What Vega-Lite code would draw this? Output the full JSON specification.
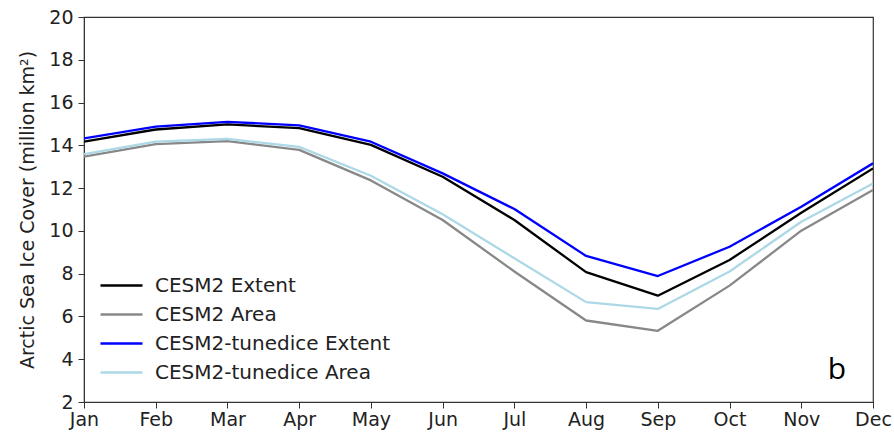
{
  "$schema": "https://vega.github.io/schema/vega-lite/v6.json",
  "autosize": "none",
  "width": 789,
  "height": 385,
  "padding": {"left": 84, "top": 17, "right": 21, "bottom": 31},
  "background": "white",
  "config": {
    "font": "DejaVu Sans",
    "view": {"stroke": "#333333", "strokeWidth": 1.2},
    "axis": {
      "labelFont": "DejaVu Sans",
      "titleFont": "DejaVu Sans",
      "labelFontSize": 19,
      "titleFontSize": 19,
      "titleFontWeight": "normal",
      "labelColor": "#222222",
      "titleColor": "#222222",
      "domainColor": "#333333",
      "tickColor": "#333333",
      "tickSize": 6,
      "grid": false
    }
  },
  "datasets": {
    "ice": [
      {"month": "Jan", "series": "CESM2 Extent", "value": 14.17},
      {"month": "Feb", "series": "CESM2 Extent", "value": 14.74},
      {"month": "Mar", "series": "CESM2 Extent", "value": 14.98},
      {"month": "Apr", "series": "CESM2 Extent", "value": 14.80},
      {"month": "May", "series": "CESM2 Extent", "value": 14.02},
      {"month": "Jun", "series": "CESM2 Extent", "value": 12.53},
      {"month": "Jul", "series": "CESM2 Extent", "value": 10.51},
      {"month": "Aug", "series": "CESM2 Extent", "value": 8.07},
      {"month": "Sep", "series": "CESM2 Extent", "value": 6.97},
      {"month": "Oct", "series": "CESM2 Extent", "value": 8.64},
      {"month": "Nov", "series": "CESM2 Extent", "value": 10.85},
      {"month": "Dec", "series": "CESM2 Extent", "value": 12.92},
      {"month": "Jan", "series": "CESM2 Area", "value": 13.47},
      {"month": "Feb", "series": "CESM2 Area", "value": 14.06},
      {"month": "Mar", "series": "CESM2 Area", "value": 14.20},
      {"month": "Apr", "series": "CESM2 Area", "value": 13.79},
      {"month": "May", "series": "CESM2 Area", "value": 12.36},
      {"month": "Jun", "series": "CESM2 Area", "value": 10.51},
      {"month": "Jul", "series": "CESM2 Area", "value": 8.10},
      {"month": "Aug", "series": "CESM2 Area", "value": 5.81},
      {"month": "Sep", "series": "CESM2 Area", "value": 5.33},
      {"month": "Oct", "series": "CESM2 Area", "value": 7.44},
      {"month": "Nov", "series": "CESM2 Area", "value": 10.01},
      {"month": "Dec", "series": "CESM2 Area", "value": 11.91},
      {"month": "Jan", "series": "CESM2-tunedice Extent", "value": 14.32},
      {"month": "Feb", "series": "CESM2-tunedice Extent", "value": 14.87},
      {"month": "Mar", "series": "CESM2-tunedice Extent", "value": 15.10},
      {"month": "Apr", "series": "CESM2-tunedice Extent", "value": 14.93},
      {"month": "May", "series": "CESM2-tunedice Extent", "value": 14.17},
      {"month": "Jun", "series": "CESM2-tunedice Extent", "value": 12.69},
      {"month": "Jul", "series": "CESM2-tunedice Extent", "value": 11.02},
      {"month": "Aug", "series": "CESM2-tunedice Extent", "value": 8.83},
      {"month": "Sep", "series": "CESM2-tunedice Extent", "value": 7.89},
      {"month": "Oct", "series": "CESM2-tunedice Extent", "value": 9.26},
      {"month": "Nov", "series": "CESM2-tunedice Extent", "value": 11.13},
      {"month": "Dec", "series": "CESM2-tunedice Extent", "value": 13.16},
      {"month": "Jan", "series": "CESM2-tunedice Area", "value": 13.59},
      {"month": "Feb", "series": "CESM2-tunedice Area", "value": 14.17},
      {"month": "Mar", "series": "CESM2-tunedice Area", "value": 14.30},
      {"month": "Apr", "series": "CESM2-tunedice Area", "value": 13.93},
      {"month": "May", "series": "CESM2-tunedice Area", "value": 12.58},
      {"month": "Jun", "series": "CESM2-tunedice Area", "value": 10.78},
      {"month": "Jul", "series": "CESM2-tunedice Area", "value": 8.72},
      {"month": "Aug", "series": "CESM2-tunedice Area", "value": 6.67},
      {"month": "Sep", "series": "CESM2-tunedice Area", "value": 6.35},
      {"month": "Oct", "series": "CESM2-tunedice Area", "value": 8.10},
      {"month": "Nov", "series": "CESM2-tunedice Area", "value": 10.43},
      {"month": "Dec", "series": "CESM2-tunedice Area", "value": 12.22}
    ],
    "panel": [
      {"month": "Dec", "value": 3.5, "tag": "b"}
    ]
  },
  "layer": [
    {
      "data": {"name": "ice"},
      "mark": {"type": "line", "strokeWidth": 2.3, "strokeJoin": "round", "clip": true},
      "encoding": {
        "x": {
          "field": "month",
          "type": "ordinal",
          "sort": ["Jan", "Feb", "Mar", "Apr", "May", "Jun", "Jul", "Aug", "Sep", "Oct", "Nov", "Dec"],
          "scale": {"type": "point", "padding": 0},
          "axis": {"title": null, "labelAngle": 0, "labelPadding": 2}
        },
        "y": {
          "field": "value",
          "type": "quantitative",
          "scale": {"domain": [2, 20], "nice": false, "zero": false},
          "axis": {
            "title": "Arctic Sea Ice Cover (million km²)",
            "values": [2, 4, 6, 8, 10, 12, 14, 16, 18, 20],
            "labelPadding": 5,
            "titlePadding": 11
          }
        },
        "color": {
          "field": "series",
          "type": "nominal",
          "sort": ["CESM2 Extent", "CESM2 Area", "CESM2-tunedice Extent", "CESM2-tunedice Area"],
          "scale": {
            "domain": ["CESM2 Extent", "CESM2 Area", "CESM2-tunedice Extent", "CESM2-tunedice Area"],
            "range": ["#000000", "#888888", "#0000ff", "#add8e6"]
          },
          "legend": {
            "title": null,
            "orient": "none",
            "legendX": 21,
            "legendY": 252,
            "padding": 0,
            "symbolType": "M-1.4,0H1.4",
            "symbolSize": 900,
            "symbolStrokeWidth": 2.5,
            "symbolFillColor": "transparent",
            "labelFontSize": 20,
            "labelFont": "DejaVu Sans",
            "labelColor": "#222222",
            "labelOffset": 17,
            "labelLimit": 400,
            "rowPadding": 2
          }
        }
      }
    },
    {
      "data": {"name": "panel"},
      "mark": {"type": "text", "fontSize": 30, "align": "center", "baseline": "middle", "dx": -36, "color": "#000000", "font": "Open Sans"},
      "encoding": {
        "x": {"field": "month", "type": "ordinal", "sort": ["Jan", "Feb", "Mar", "Apr", "May", "Jun", "Jul", "Aug", "Sep", "Oct", "Nov", "Dec"]},
        "y": {"field": "value", "type": "quantitative"},
        "text": {"field": "tag"}
      }
    }
  ]
}
